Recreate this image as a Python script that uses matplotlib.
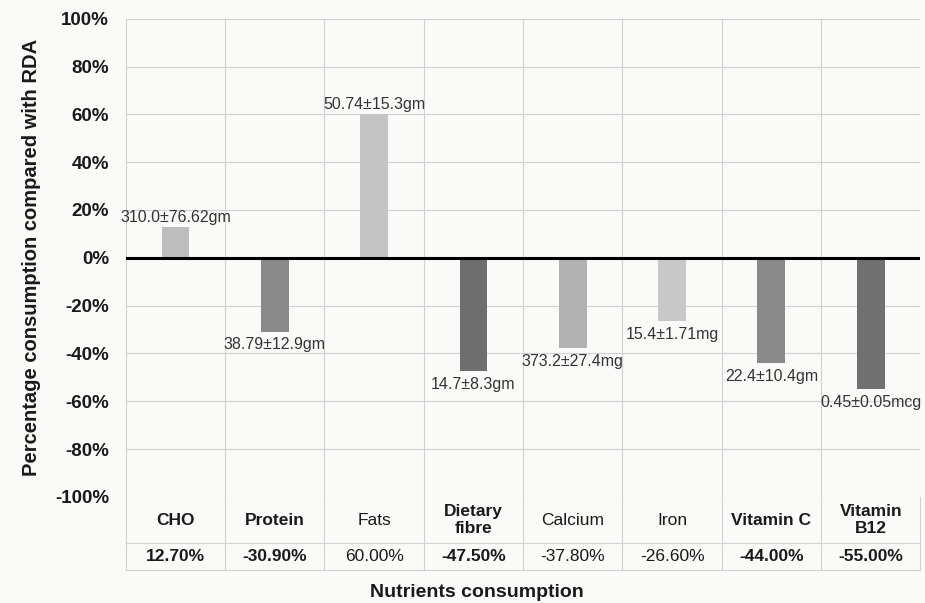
"""
Percentage nutrient consumption compared with RDA, bar chart with data table
"""

import matplotlib.pyplot as plt
from matplotlib.transforms import blended_transform_factory

nutrients = ['CHO', 'Protein', 'Fats', 'Dietary\nfibre', 'Calcium',
             'Iron', 'Vitamin C', 'Vitamin\nB12']
pct_of_rda = [12.7, -30.9, 60.0, -47.5, -37.8, -26.6, -44.0, -55.0]
table_values = ['12.70%', '-30.90%', '60.00%', '-47.50%', '-37.80%',
                '-26.60%', '-44.00%', '-55.00%']
intake_labels = ['310.0±76.62gm', '38.79±12.9gm', '50.74±15.3gm', '14.7±8.3gm',
                 '373.2±27.4mg', '15.4±1.71mg', '22.4±10.4gm', '0.45±0.05mcg']
y_ticks = [100, 80, 60, 40, 20, 0, -20, -40, -60, -80, -100]

bar_colors = ['#bdbdbd', '#8a8a8a', '#c4c4c4', '#6e6e6e',
              '#b2b2b2', '#c8c8c8', '#8a8a8a', '#707070']
# the scan shows some columns printed lighter
text_weights = ['bold', 'bold', 'normal', 'bold', 'normal', 'normal', 'bold', 'bold']

plt.rcParams['font.family'] = ['Liberation Sans', 'DejaVu Sans']
bg = '#fafaf8'

fig = plt.figure(figsize=(9.25, 6.03), dpi=100, facecolor=bg)
ax = fig.add_axes([0.136, 0.176, 0.859, 0.793], facecolor=bg)

n = len(nutrients)
x = list(range(n))
ax.bar(x, pct_of_rda, width=0.28, color=bar_colors, zorder=2)
ax.axhline(0, color='black', linewidth=2.2, zorder=3)

# value labels at the end of each bar
for xi, val, lab in zip(x, pct_of_rda, intake_labels):
    off = 2 if val > 0 else -4
    ax.annotate(lab, (xi, val), xytext=(0, off), textcoords='offset points',
                ha='center', va='bottom' if val > 0 else 'top',
                fontsize=11.5, color='#333333', zorder=4, clip_on=False)

ax.set_xlim(-0.5, n - 0.5)
ax.set_ylim(-100, 100)
ax.set_yticks(y_ticks)
ax.set_yticklabels([f'{t}%' for t in y_ticks], fontsize=13.5, fontweight='bold',
                   color='#1a1a1a')
ax.tick_params(axis='y', length=0, pad=12)
ax.set_xticks([])

grid_color = '#d2d2d2'
for t in y_ticks:
    ax.axhline(t, color=grid_color, linewidth=0.8, zorder=1)
for b in range(n + 1):
    ax.axvline(b - 0.5, color=grid_color, linewidth=0.8, zorder=1)
for s in ax.spines.values():
    s.set_visible(False)

ax.set_ylabel('Percentage consumption compared with RDA', fontsize=14.5,
              fontweight='bold', color='#1a1a1a', labelpad=10)

# data table under the plot
tr = blended_transform_factory(ax.transData, ax.transAxes)
row1, row2 = -0.097, -0.152
for b in range(n + 1):
    ax.plot([b - 0.5, b - 0.5], [0, row2], transform=tr, color=grid_color,
            linewidth=0.8, clip_on=False)
for yy in (row1, row2):
    ax.plot([-0.5, n - 0.5], [yy, yy], transform=tr, color=grid_color,
            linewidth=0.8, clip_on=False)
for xi, name, v, w in zip(x, nutrients, table_values, text_weights):
    ax.text(xi, row1 / 2, name, transform=tr, ha='center', va='center',
            fontsize=12.5, fontweight=w, color='#1a1a1a', linespacing=1.2)
    ax.text(xi, (row1 + row2) / 2, v, transform=tr, ha='center', va='center',
            fontsize=12.5, fontweight=w, color='#1a1a1a')

fig.text(0.515, 0.003, 'Nutrients consumption', ha='center', va='bottom',
         fontsize=14, fontweight='bold', color='#1a1a1a')

plt.savefig('out.png', dpi=100, facecolor=bg)
plt.close()
